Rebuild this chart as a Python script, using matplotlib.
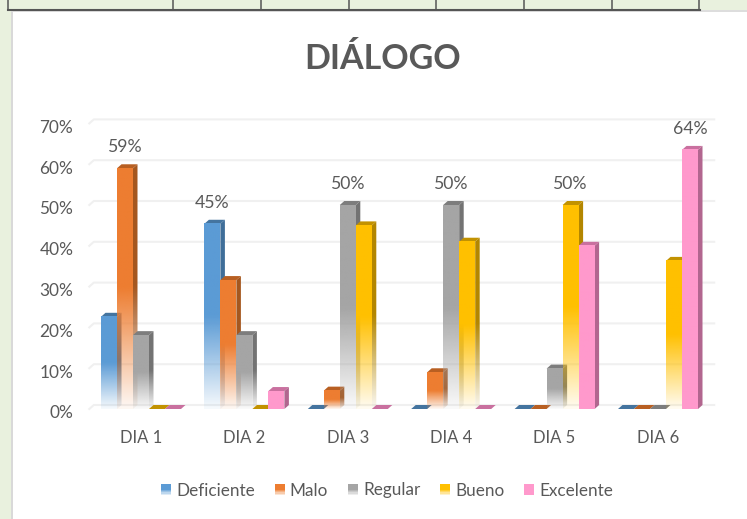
import numpy as np
import matplotlib
matplotlib.use("Agg")
import matplotlib.pyplot as plt
from matplotlib.colors import to_rgb
from matplotlib.legend_handler import HandlerBase
from matplotlib.lines import Line2D
from matplotlib.patches import Polygon, Rectangle
from matplotlib.transforms import ScaledTranslation

days = ["DIA 1", "DIA 2", "DIA 3", "DIA 4", "DIA 5", "DIA 6"]
series_names = ["Deficiente", "Malo", "Regular", "Bueno", "Excelente"]

deficiente = [22.6, 45.4, 0, 0, 0, 0]
malo = [59, 31.6, 4.5, 9, 0, 0]
regular = [18.1, 18.1, 50, 50, 9.9, 0]
bueno = [0, 0, 45, 41, 50, 36.3]
excelente = [0, 4.4, 0, 0, 40, 63.5]

# only the tallest bar of each day carries a label
label_series = [1, 0, 2, 2, 3, 4]
label_texts = ["59%", "45%", "50%", "50%", "50%", "64%"]

front_colors = ["#5B9BD5", "#ED7D31", "#A5A5A5", "#FFC000", "#FF99CC"]
side_colors = ["#3F6E99", "#A5571F", "#737373", "#B38600", "#B2668F"]
top_colors = ["#44749F", "#B85F22", "#7D7D7D", "#C29200", "#C9709F"]
has_fade = [True, True, True, True, False]

TEXT = "#595959"
GREEN = "#E9F1DE"
W, H = 747, 519
BAR_PX = 16
DEPTH_PX = 4.5
GROUP_PX = 103.4


def fade(color, solid):
    """Vertical RGBA strip, top row first, fading out towards the bottom."""
    rgb = to_rgb(color)
    n = 64
    strip = np.ones((n, 1, 4))
    strip[:, :, :3] = rgb
    if solid:
        return strip
    pos = np.linspace(1, 0, n)
    strip[:, 0, 3] = np.clip(0.06 + 0.94 * pos / 0.5, 0, 1)
    return strip


class FadeHandler(HandlerBase):
    def __init__(self, color, solid):
        super().__init__()
        self.color = color
        self.solid = solid

    def create_artists(self, legend, orig_handle, xdescent, ydescent, width, height, fontsize, trans):
        side = width
        y0 = (height - side) / 2 - ydescent
        parts = []
        steps = 10
        for k in range(steps):
            # legend key: solid for the top part, short fade below
            alpha = 1 if self.solid or k < 6 else 1 - (k - 5) / 5
            r = Rectangle((-xdescent, y0 + side * (steps - k - 1) / steps), side, side / steps,
                          facecolor=self.color, alpha=alpha, linewidth=0, transform=trans)
            parts.append(r)
        return parts


plt.rcParams["font.family"] = ["Lato", "DejaVu Sans"]
fig = plt.figure(figsize=(W / 100, H / 100), dpi=100, facecolor="white")

# page behind the chart: green sheet and the table row cut off at the top
fig.add_artist(Rectangle((0, 0), 11 / W, 1, transform=fig.transFigure, facecolor=GREEN, linewidth=0))
fig.add_artist(Rectangle((0, 1 - 10 / H), 1, 10 / H, transform=fig.transFigure, facecolor=GREEN, linewidth=0))
fig.add_artist(Rectangle((11 / W, 0), 2 / W, 1 - 10 / H, transform=fig.transFigure, facecolor="#D9D9D9", linewidth=0))
fig.add_artist(Rectangle((11 / W, 1 - 12 / H), 1, 2 / H, transform=fig.transFigure, facecolor="#DDDDDD", linewidth=0))
fig.add_artist(Line2D([8 / W, 700 / W], [1 - 9.5 / H, 1 - 9.5 / H], transform=fig.transFigure, color="#555555", lw=1.5))
for px in [8, 173, 261, 349, 436, 524, 612, 699]:
    fig.add_artist(Line2D([px / W, px / W], [1 - 9.5 / H, 1], transform=fig.transFigure, color="#555555", lw=1.1))

left_px = 89.3
base_px = 409
per_10 = 40.8
ax = fig.add_axes([left_px / W, 1 - base_px / H, GROUP_PX * 6 / W, per_10 * 7 / H])
ax.set_xlim(-0.5, 5.5)
ax.set_ylim(0, 70)
ax.set_autoscale_on(False)
ax.patch.set_alpha(0)
for s in ax.spines.values():
    s.set_visible(False)

bar_w = BAR_PX / GROUP_PX
dx = DEPTH_PX / GROUP_PX
dy = 4 / per_10 * 10

ax.set_xticks(range(len(days)))
ax.set_xticklabels(days)
ax.set_yticks(range(0, 71, 10))
ax.set_yticklabels([f"{v}%" for v in range(0, 71, 10)])
ax.tick_params(axis="x", length=0, pad=15, labelsize=12, labelcolor=TEXT)
ax.tick_params(axis="y", length=0, pad=11.5, labelsize=12.4, labelcolor=TEXT)
for lab in ax.get_yticklabels():
    lab.set_transform(lab.get_transform() + ScaledTranslation(0, -3 / 100, fig.dpi_scale_trans))

for v in range(0, 71, 10):
    ax.plot([-0.5, -0.5 + dx, 5.5 + dx], [v, v + dy, v + dy], color="#F0F0F0", lw=1.5, clip_on=False, zorder=1)

all_series = [deficiente, malo, regular, bueno, excelente]
z = 2
for g in range(len(days)):
    for s, values in enumerate(all_series):
        val = values[g]
        x0 = g + (s - 2.5) * bar_w
        x1 = x0 + bar_w
        solid = not has_fade[s]
        top = Polygon([(x0, val), (x1, val), (x1 + dx, val + dy), (x0 + dx, val + dy)],
                      facecolor=top_colors[s], linewidth=0, clip_on=False, zorder=z)
        ax.add_patch(top)
        if val > 0:
            side_clip = Polygon([(x1, 0), (x1 + dx, dy), (x1 + dx, val + dy), (x1, val)],
                                facecolor="none", linewidth=0, clip_on=False, zorder=z)
            ax.add_patch(side_clip)
            side = ax.imshow(fade(side_colors[s], solid), extent=(x1, x1 + dx, 0, val + dy),
                             aspect="auto", interpolation="bilinear", zorder=z + 0.1)
            side.set_clip_path(side_clip)
            ax.imshow(fade(front_colors[s], solid), extent=(x0, x1, 0, val),
                      aspect="auto", interpolation="bilinear", zorder=z + 0.2, clip_on=False)
        z += 1

for g, (s, txt) in enumerate(zip(label_series, label_texts)):
    x = g + (s - 2) * bar_w
    ax.annotate(txt, (x, all_series[s][g]), xytext=(0, 21 * 0.72), textcoords="offset points",
                ha="center", va="center", fontsize=12.7, color=TEXT, zorder=500)

fig.text(383 / W, 1 - 59 / H, "DIÁLOGO", ha="center", va="center", fontsize=24.5, fontweight="bold", color=TEXT)

handles = [Rectangle((0, 0), 1, 1) for _ in series_names]
handler_map = {h: FadeHandler(c, not f) for h, c, f in zip(handles, front_colors, has_fade)}
fig.legend(handles, series_names, handler_map=handler_map, ncols=5, loc="center",
           bbox_to_anchor=(387 / W, 1 - 490.5 / H), frameon=False, fontsize=12.3, labelcolor=TEXT,
           handlelength=0.59, handleheight=0.59, handletextpad=0.3, columnspacing=1.15, borderpad=0)

fig.savefig("out.png", dpi=100, facecolor="white")
